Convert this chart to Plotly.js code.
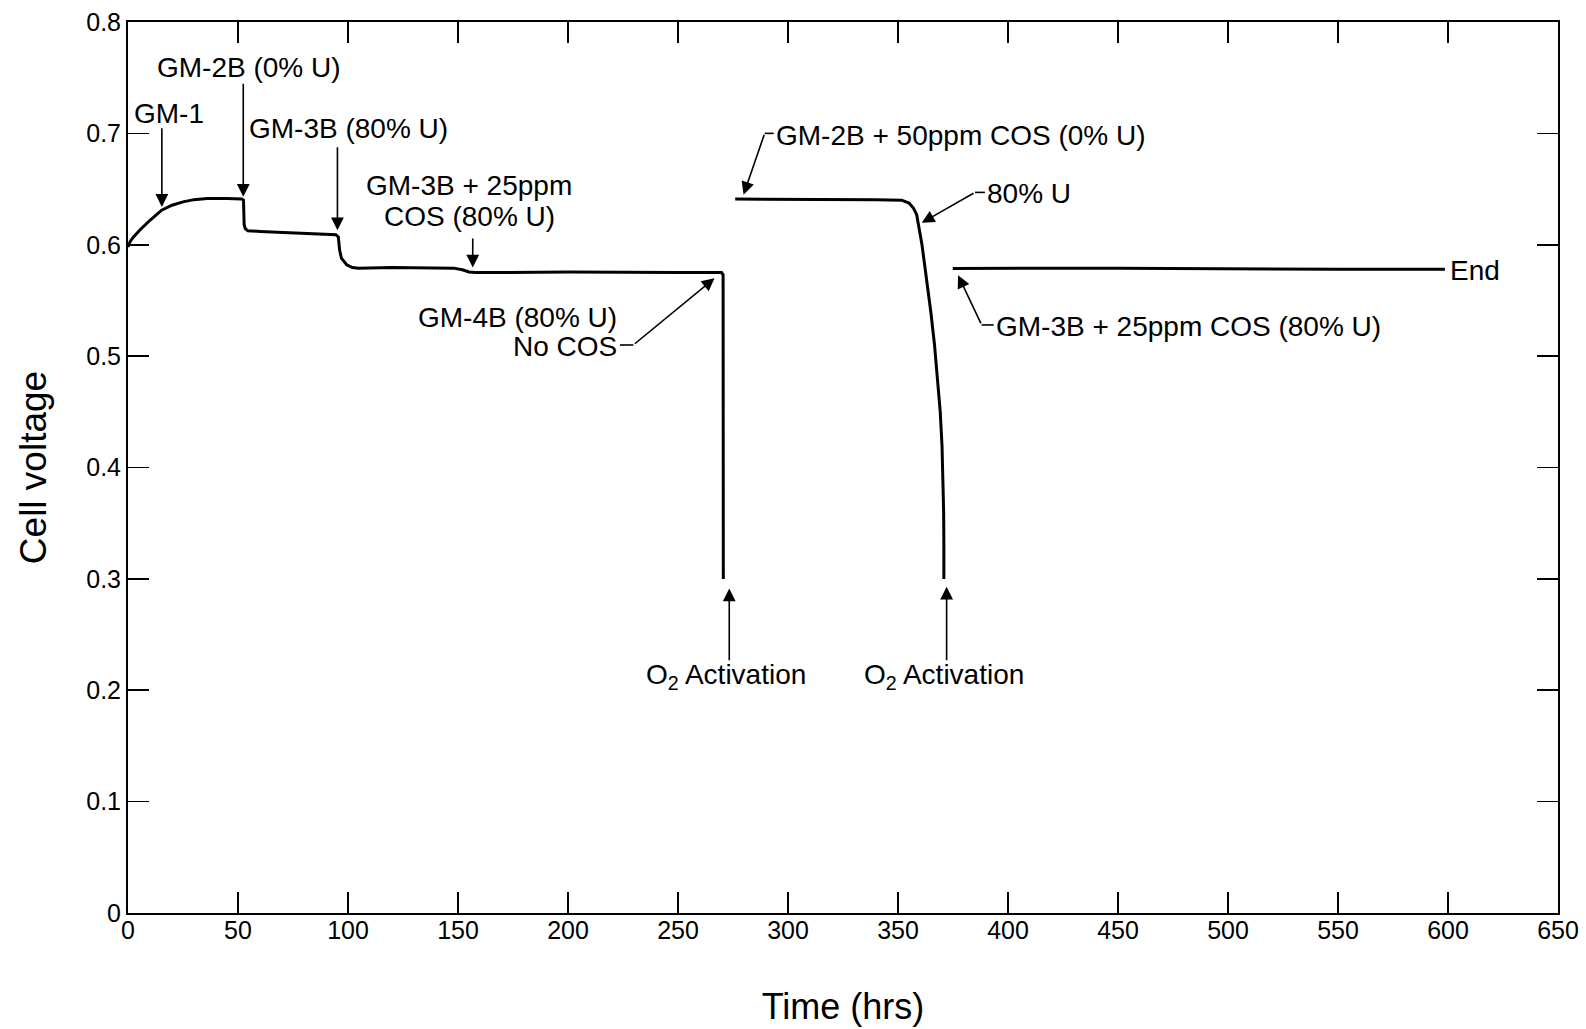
<!DOCTYPE html>
<html>
<head>
<meta charset="utf-8">
<script src="https://cdn.plot.ly/plotly-3.0.1.min.js"></script>
<style>html,body{margin:0;padding:0;background:#fff;}#chart{width:1586px;height:1029px;}</style>
</head>
<body>
<div id="chart"></div>
<script>
// Segment 1: GM-1 ... GM-4B, ending with O2 activation
const seg1Time = [0, 1, 2.5, 5.5, 10, 15.3, 20, 25, 30, 36, 45, 51.7, 52.5, 52.7, 52.8, 53.3, 54.5, 60, 75, 88, 94.5, 95.6, 96.2, 97, 99.4, 102, 104.7, 120, 140, 148, 152, 155, 158, 200, 250, 269.8, 270.5, 270.6];
const seg1Volt = [0.598, 0.603, 0.607, 0.6135, 0.622, 0.631, 0.6355, 0.6385, 0.6405, 0.6415, 0.6415, 0.641, 0.640, 0.630, 0.618, 0.6145, 0.6125, 0.612, 0.6105, 0.6095, 0.609, 0.607, 0.595, 0.588, 0.582, 0.5795, 0.579, 0.5795, 0.5795, 0.579, 0.5775, 0.5755, 0.575, 0.5755, 0.575, 0.575, 0.573, 0.300];
// Segment 2: GM-2B + 50ppm COS, then 80% U, ending with O2 activation
const seg2Time = [276, 300, 340, 351.7, 355, 357, 358.5, 360.9, 363.0, 364.9, 366.6, 368.0, 369.2, 370.0, 370.5, 370.75, 370.85, 370.85];
const seg2Volt = [0.641, 0.641, 0.6405, 0.640, 0.6375, 0.633, 0.627, 0.600, 0.570, 0.540, 0.510, 0.480, 0.450, 0.420, 0.390, 0.360, 0.330, 0.300];
// Segment 3: GM-3B + 25ppm COS (80% U) to end
const seg3Time = [374.9, 450, 550, 598.6];
const seg3Volt = [0.5787, 0.579, 0.578, 0.578];

const xTicks = [0, 50, 100, 150, 200, 250, 300, 350, 400, 450, 500, 550, 600, 650];
const yTicks = [0, 0.1, 0.2, 0.3, 0.4, 0.5, 0.6, 0.7, 0.8];
const yTickText = ['0', '0.1', '0.2', '0.3', '0.4', '0.5', '0.6', '0.7', '0.8'];

const FONT = 'Liberation Sans, Arial, Helvetica, sans-serif';
const AF = {family: FONT, size: 28, color: '#000'};

function seg(t, v) {
  return {x: t, y: v, type: 'scatter', mode: 'lines', line: {color: '#000', width: 3}, hoverinfo: 'skip', showlegend: false};
}

function label(x, y, text, xanchor, yanchor, align) {
  return {x: x, y: y, xref: 'x', yref: 'y', text: text, showarrow: false, font: AF,
          xanchor: xanchor || 'center', yanchor: yanchor || 'middle', align: align || 'center'};
}
function arrow(x, y, ax, ay) {
  return {x: x, y: y, ax: ax, ay: ay, xref: 'x', yref: 'y', axref: 'x', ayref: 'y', text: '',
          showarrow: true, arrowhead: 2, arrowsize: 1.6, arrowwidth: 1.6, arrowcolor: '#000', standoff: 0, startstandoff: 0};
}
function dash(x0, x1, y) {
  return {type: 'line', xref: 'x', yref: 'y', x0: x0, x1: x1, y0: y, y1: y, line: {color: '#000', width: 1.6}};
}

const annotations = [
  label(1.6, 0.718, 'GM-1', 'left'),
  arrow(15.4, 0.634, 15.4, 0.706),
  label(54.9, 0.7596, 'GM-2B (0% U)'),
  arrow(52.4, 0.643, 52.4, 0.746),
  label(100.4, 0.704, 'GM-3B (80% U)'),
  arrow(95.2, 0.613, 95.2, 0.689),
  label(155.1, 0.653, 'GM-3B + 25ppm'),
  label(155.1, 0.625, 'COS (80% U)'),
  arrow(156.7, 0.5795, 156.7, 0.607),
  label(223, 0.535, 'GM-4B (80% U)', 'right'),
  label(223, 0.509, 'No COS', 'right'),
  arrow(266.6, 0.570, 229.7, 0.510),
  label(271.9, 0.212, 'O<sub>2</sub> Activation'),
  arrow(273.3, 0.2914, 273.3, 0.2256),
  label(370.8, 0.212, 'O<sub>2</sub> Activation'),
  arrow(372.1, 0.293, 372.1, 0.2256),
  label(293.5, 0.698, 'GM-2B + 50ppm COS (0% U)', 'left'),
  arrow(279.8, 0.645, 289.4, 0.700),
  label(389.5, 0.646, '80% U', 'left'),
  arrow(360.8, 0.6197, 385, 0.647),
  label(393.5, 0.527, 'GM-3B + 25ppm COS (80% U)', 'left'),
  arrow(377.3, 0.5727, 388, 0.528),
  label(600.2, 0.577, 'End', 'left')
];

const shapes = [
  dash(223.6, 229.7, 0.510),
  dash(289.4, 293.5, 0.700),
  dash(385, 389.5, 0.647),
  dash(388, 393.5, 0.528)
];

const axisCommon = {
  showline: true, linewidth: 2, linecolor: '#000', mirror: 'ticks',
  ticks: 'inside', ticklen: 21, tickwidth: 1.6, tickcolor: '#000',
  showgrid: false, zeroline: false,
  tickfont: {family: FONT, size: 25, color: '#000'}
};

const layout = {
  width: 1586, height: 1029,
  margin: {l: 128, r: 28, t: 22, b: 116},
  paper_bgcolor: '#fff', plot_bgcolor: '#fff',
  showlegend: false,
  xaxis: Object.assign({}, axisCommon, {
    range: [0, 650], tickmode: 'array', tickvals: xTicks, ticktext: xTicks.map(String),
    ticklabelstandoff: -6,
    title: {text: 'Time (hrs)', font: {family: FONT, size: 36, color: '#000'}, standoff: 51}
  }),
  yaxis: Object.assign({}, axisCommon, {
    range: [0, 0.8], tickmode: 'array', tickvals: yTicks, ticktext: yTickText,
    title: {text: 'Cell voltage', font: {family: FONT, size: 37, color: '#000'}, standoff: 28}
  }),
  annotations: annotations,
  shapes: shapes
};

Plotly.newPlot('chart', [seg(seg1Time, seg1Volt), seg(seg2Time, seg2Volt), seg(seg3Time, seg3Volt)], layout, {displayModeBar: false, staticPlot: true});
</script>
</body>
</html>
